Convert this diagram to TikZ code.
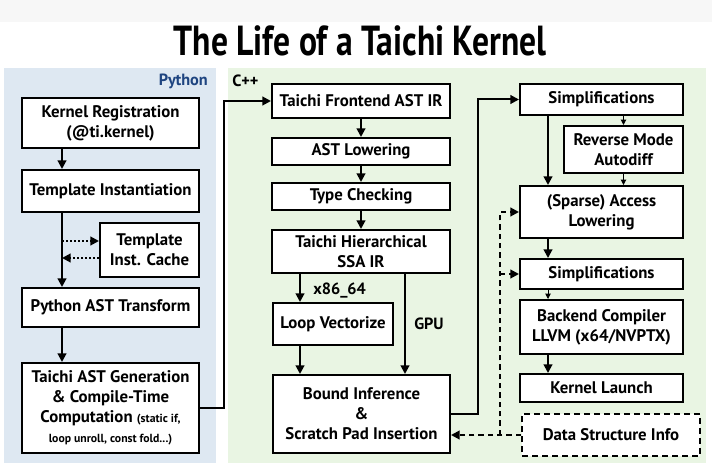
\documentclass[tikz,border=0pt]{standalone}
\usepackage{fontspec}
\setmainfont{PT Sans}
\newfontfamily\titlefont[FakeStretch=0.8]{PT Sans}
\usetikzlibrary{arrows.meta}

\definecolor{pyblue}{RGB}{222,232,242}
\definecolor{cppgreen}{RGB}{233,245,227}
\definecolor{pylabel}{RGB}{30,68,128}
\definecolor{topgray}{RGB}{247,247,247}

\begin{document}
\begin{tikzpicture}[x=0.75pt,y=0.75pt,yscale=-1,xscale=1,
  box/.style={draw, line width=1.5pt, fill=white, align=center, inner sep=0.75pt,
    font=\bfseries\fontsize{12.6}{15}\selectfont},
  dashbox/.style={box, dash pattern=on 4.5pt off 3pt},
  flow/.style={line width=1.5pt, -{Triangle[length=6.5pt,width=6.5pt]}},
  thinflow/.style={line width=0.75pt, -{Triangle[length=4pt,width=4pt]}},
  dotflow/.style={flow, dash pattern=on 1.5pt off 1.5pt},
  dashflow/.style={flow, dash pattern=on 4pt off 3pt},
  lbl/.style={inner sep=0.75pt, font=\bfseries\fontsize{12.2}{14}\selectfont}]
\useasboundingbox (0,0) rectangle (712,466);

% background panels
\fill[white] (0,0) rectangle (712,466);
\fill[topgray] (0,0) rectangle (712,22);
\fill[pyblue] (4,68) rectangle (216,463);
\fill[cppgreen] (228,68) rectangle (706,463);

% Title
\node (title) at (360,41) {\titlefont\bfseries\fontsize{31.5}{31.5}\selectfont The Life of a Taichi Kernel};
\node[lbl, anchor=east, text=pylabel] (python) at (209,81) {Python};
\node[lbl, anchor=west] (cpp) at (231,81) {C++};

% Python side
\node[box, minimum width=132.75pt, minimum height=37.5pt] (kreg) at (110.5,123) {Kernel Registration\\(@ti.kernel)};
\node[box, minimum width=132.75pt, minimum height=31.5pt] (tinst) at (110.5,191) {Template Instantiation};
\node[box, minimum width=74.25pt, minimum height=40.5pt] (tcache) at (149.5,250) {Template\\Inst. Cache};
\node[box, minimum width=132.75pt, minimum height=29.25pt] (pyast) at (110.5,307.5) {Python AST Transform};
\node[box, minimum width=132.75pt, minimum height=67.5pt] (astgen) at (110.5,408)
  {Taichi AST Generation\\\& Compile-Time\\Computation {\fontsize{8.8}{15}\selectfont(static if,}\\{\fontsize{8.8}{15}\selectfont loop unroll, const fold...)}};

% C++ middle column
\node[box, minimum width=133.5pt, minimum height=25.5pt] (front) at (361,101) {Taichi Frontend AST IR};
\node[box, minimum width=133.5pt, minimum height=20.25pt] (lower) at (361,151.5) {AST Lowering};
\node[box, minimum width=133.5pt, minimum height=20.25pt] (tcheck) at (361,196.5) {Type Checking};
\node[box, minimum width=133.5pt, minimum height=32.25pt] (ssa) at (361,251.5) {Taichi Hierarchical\\SSA IR};
\node[box, minimum width=90pt, minimum height=31.5pt] (lvec) at (333,324) {Loop Vectorize};
\node[box, minimum width=132.75pt, minimum height=58.5pt] (bound) at (361.5,414) {Bound Inference\\\&\\Scratch Pad Insertion};

% C++ right column
\node[box, minimum width=122.25pt, minimum height=23.25pt] (simpa) at (601.5,99.5) {Simplifications};
\node[box, minimum width=89.25pt, minimum height=35.25pt] (rmode) at (623.5,149.5) {Reverse Mode\\Autodiff};
\node[box, minimum width=122.25pt, minimum height=39pt] (sparse) at (601.5,212) {(Sparse) Access\\Lowering};
\node[box, minimum width=122.25pt, minimum height=22.5pt] (simpb) at (601.5,274) {Simplifications};
\node[box, minimum width=122.25pt, minimum height=40.5pt] (backend) at (601.5,327) {Backend Compiler\\LLVM (x64/NVPTX)};
\node[box, minimum width=122.25pt, minimum height=21pt] (klaunch) at (601.5,388) {Kernel Launch};
\node[dashbox, minimum width=133.5pt, minimum height=31.5pt] (dsinfo) at (611,435) {Data Structure Info};

% guide coordinates
\coordinate (pyspine) at (62,0);
\coordinate (cpu) at (300,0);
\coordinate (gpu) at (405,0);
\coordinate (rspine) at (548,0);
\coordinate (dsline) at (500,0);
\coordinate (cachein) at (62,241);
\coordinate (cacheout) at (62,258);

% Python connectors
\draw[flow] (pyspine |- kreg.south) -- (pyspine |- tinst.north);
\draw[flow] (pyspine |- tinst.south) -- (pyspine |- pyast.north);
\draw[dotflow] (cachein) -- (cachein -| tcache.west);
\draw[dotflow] (cacheout -| tcache.west) -- (cacheout);
\draw[flow] (pyspine |- pyast.south) -- (pyspine |- astgen.north);
\draw[flow] (astgen.east) -- ++(24,0) |- (front.west);

% middle connectors
\draw[flow] (front) -- (lower);
\draw[flow] (lower) -- (tcheck);
\draw[flow] (tcheck) -- (ssa);
\draw[flow] (cpu |- ssa.south) -- (cpu |- lvec.north);
\node[lbl, anchor=west] (x86) at (312,291) {x86\_64};
\draw[flow] (gpu |- ssa.south) -- (gpu |- bound.north);
\node[lbl, anchor=west] (gpulbl) at (413,324) {GPU};
\draw[flow] (cpu |- lvec.south) -- (cpu |- bound.north);
\draw[flow] (bound.east) -- ++(27,0) |- (simpa.west);

% right connectors
\draw[flow] (rspine |- simpa.south) -- (rspine |- sparse.north);
\draw[thinflow] (rmode.north |- simpa.south) -- (rmode.north);
\draw[thinflow] (rmode.south) -- (rmode.south |- sparse.north);
\draw[flow] (rspine |- sparse.south) -- (rspine |- simpb.north);
\draw[thinflow] (rspine |- simpb.south) -- (rspine |- backend.north);
\draw[flow] (rspine |- backend.south) -- (rspine |- klaunch.north);

% data structure info
\draw[dashflow] (dsinfo.west) -- (dsinfo.west -| bound.east);
\draw[dashflow] (dsline |- dsinfo.west) |- (sparse.west);
\draw[dashflow] (dsline |- simpb.west) -- (simpb.west);

\end{tikzpicture}
\end{document}
